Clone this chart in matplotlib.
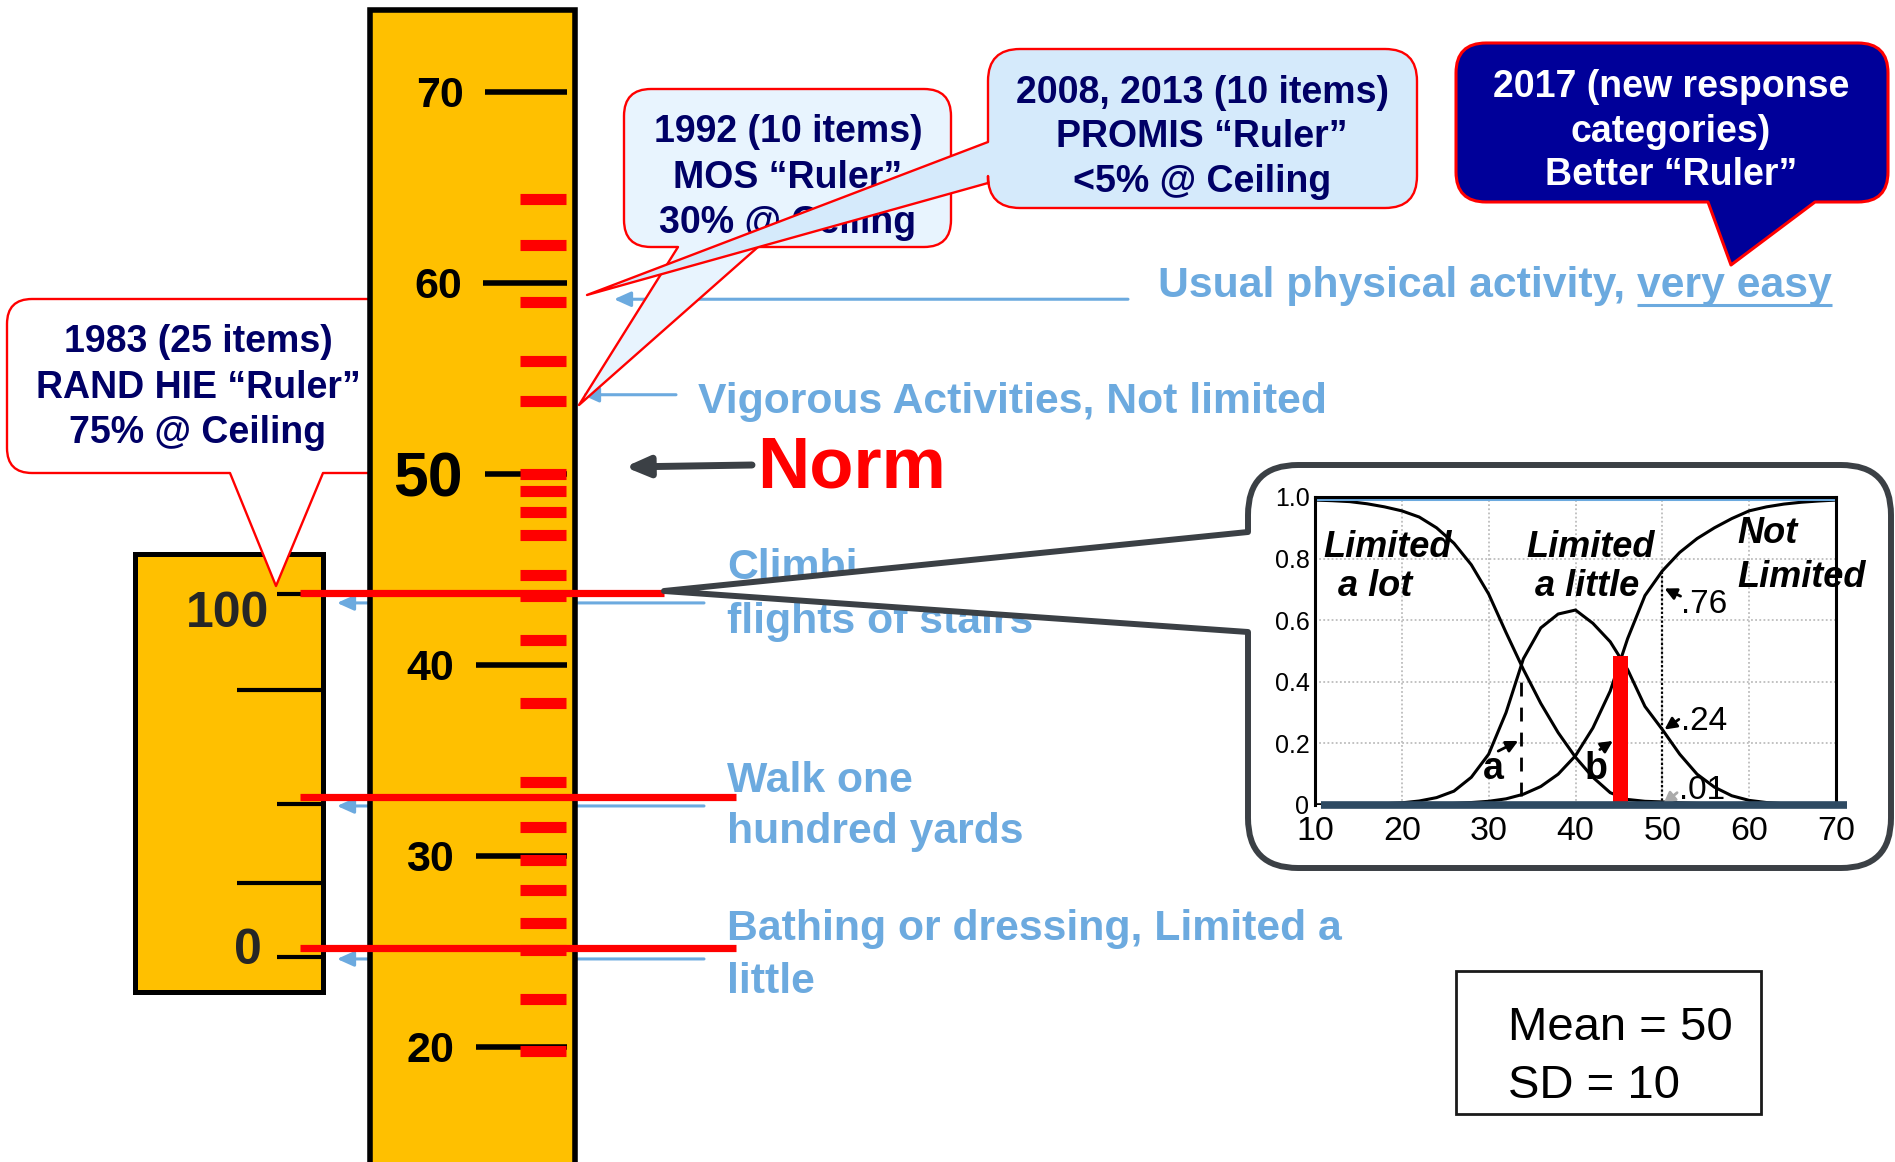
import numpy as np
import matplotlib
matplotlib.use("Agg")
import matplotlib.pyplot as plt
import matplotlib.transforms as mtransforms
from matplotlib.path import Path
from matplotlib.patches import PathPatch, Rectangle, FancyArrowPatch

plt.rc("font", family="Liberation Sans")

# ---------------- data ----------------
# PROMIS T-score ruler
ruler_ticks = [20, 30, 40, 50, 60, 70]
ruler_tick_x0 = [476, 476, 476, 485, 483, 485]
ruler_label_x = [454, 454, 454, 463, 462, 464]
ruler_label_size = [31, 31, 31, 45, 31, 31]
promis_marks = [64.4, 62.0, 59.0, 55.9, 53.8, 50.0, 49.1, 48.0, 46.8, 44.7, 43.6,
                41.3, 38.0, 33.9, 31.5, 29.8, 28.2, 26.5, 25.1, 22.5, 19.8]

# RAND HIE 0-100 ruler, positioned against the T-score scale
hie_t = [43.7, 38.7, 32.7, 28.6, 24.7]
hie_long = [False, True, False, True, False]
hie_labels = ["100", "0"]
hie_label_t = [42.0, 24.35]
hie_label_x = [269, 262]

# items
item_t = [43.77, 33.09, 25.18]
item_end_x = [664, 736, 736]
item_arrow_t = [43.25, 32.62, 24.61]
item_text = [["Climbi", "flights of stairs"],
             ["Walk one", "hundred yards"],
             ["Bathing or dressing, Limited a", "little"]]
item_text_y = [[579, 633], [792, 843], [940, 993]]
usual_t, vigorous_t = 59.15, 54.15

# category response curves (inset)
theta = [10, 12, 14, 16, 18, 20, 22, 24, 26, 28, 30, 32, 34, 36, 38, 40,
         42, 44, 46, 48, 50, 52, 54, 56, 58, 60, 62, 64, 66, 68, 70]
p_lot = [0.990, 0.988, 0.985, 0.978, 0.968, 0.955, 0.935, 0.900, 0.850, 0.780,
         0.685, 0.560, 0.440, 0.330, 0.235, 0.155, 0.090, 0.040, 0.018, 0.012,
         0.010, 0.007, 0.005, 0.004, 0.003, 0.002, 0.002, 0.001, 0.001, 0.001, 0.000]
p_little = [0.000, 0.000, 0.001, 0.002, 0.004, 0.007, 0.013, 0.024, 0.045, 0.090,
            0.165, 0.300, 0.475, 0.575, 0.620, 0.633, 0.590, 0.530, 0.440, 0.320,
            0.245, 0.165, 0.100, 0.058, 0.030, 0.015, 0.008, 0.004, 0.002, 0.001, 0.000]
p_not = [0.000, 0.000, 0.000, 0.001, 0.001, 0.001, 0.002, 0.003, 0.005, 0.008,
         0.012, 0.020, 0.035, 0.060, 0.100, 0.160, 0.250, 0.370, 0.540, 0.680,
         0.760, 0.820, 0.865, 0.900, 0.930, 0.955, 0.968, 0.977, 0.983, 0.987, 0.990]
x_ticks = [10, 20, 30, 40, 50, 60, 70]
y_ticks = [0, 0.2, 0.4, 0.6, 0.8, 1.0]
y_tick_labels = ["0", "0.2", "0.4", "0.6", "0.8", "1.0"]

# ---------------- style ----------------
W, H = 1895, 1162
PX_PER_T = 19.1
T50_PX = 474
YELLOW = "#FFC000"
NAVY = "#000066"
BLUE = "#6CAADF"
DARK = "#3B4045"


def t_of(py):
    return 50 + (T50_PX - py) / PX_PER_T


def bubble(ax, x0, y0, x1, y1, r, tip, base, side, fc, ec, lw, z=2, trans=None):
    v = [(x0 + r, y0), (x1 - r, y0), (x1, y0), (x1, y0 + r),
         (x1, y1 - r), (x1, y1), (x1 - r, y1)]
    c = [Path.MOVETO, Path.LINETO, Path.CURVE3, Path.CURVE3,
         Path.LINETO, Path.CURVE3, Path.CURVE3]
    if side == "bottom":
        v += [(base[1], y1), tip, (base[0], y1)]
        c += [Path.LINETO] * 3
    v += [(x0 + r, y1), (x0, y1), (x0, y1 - r)]
    c += [Path.LINETO, Path.CURVE3, Path.CURVE3]
    if side == "left":
        v += [(x0, base[1]), tip, (x0, base[0])]
        c += [Path.LINETO] * 3
    v += [(x0, y0 + r), (x0, y0), (x0 + r, y0), (x0 + r, y0)]
    c += [Path.LINETO, Path.CURVE3, Path.CURVE3, Path.CLOSEPOLY]
    p = PathPatch(Path(v, c), fc=fc, ec=ec, lw=lw, zorder=z, joinstyle="round")
    if trans is not None:
        p.set_transform(trans)
    ax.add_patch(p)


def stack(ax, x, ys, lines, **kw):
    for y, s in zip(ys, lines):
        ax.text(x, y, s, ha="center", va="baseline", **kw)


def arrow(ax, a, b, color, lw, hl, hw, z=3):
    ax.add_patch(FancyArrowPatch(a, b, arrowstyle=f"-|>,head_length={hl},head_width={hw}",
                                 mutation_scale=10, color=color, lw=lw,
                                 shrinkA=0, shrinkB=0, zorder=z))


fig = plt.figure(figsize=(W / 100, H / 100), dpi=100)
fig.patch.set_facecolor("white")

# pixel space helper axes (drawn with the rulers)
axA = fig.add_axes([0, 0, 1, 1], zorder=0)
axA.set_xlim(0, W)
axA.set_ylim(H, 0)
axA.axis("off")

# rulers, y in T-score units
axB = fig.add_axes([0, 0, 1, 1], zorder=1)
axB.set_xlim(0, W)
axB.set_ylim(t_of(H), t_of(0))
axB.axis("off")

# pixel space, callouts and labels
axC = fig.add_axes([0, 0, 1, 1], zorder=2)
axC.set_xlim(0, W)
axC.set_ylim(H, 0)
axC.axis("off")

# item arrows running behind the main ruler
for t in item_arrow_t:
    arrow(axB, (704, t), (337, t), BLUE, 2.2, 1.0, 0.45, z=1)

# small RAND HIE ruler
axB.add_patch(Rectangle((134.5, t_of(991.5)), 188, t_of(554.5) - t_of(991.5),
                        fc=YELLOW, ec="black", lw=3.6, zorder=2))
axB.hlines(hie_t, [237 if lg else 277 for lg in hie_long], 321,
           colors="black", lw=3, zorder=2.5, capstyle="butt")
for s, t, x in zip(hie_labels, hie_label_t, hie_label_x):
    axB.text(x, t, s, ha="right", va="baseline", fontsize=36,
             fontweight="bold", color="#262626", zorder=2.6)

# 1983 callout: over the small ruler, tucked behind the main ruler
bubble(axB, 7, 299, 430, 473, 25, (276, 586), (230, 323), "bottom",
       "white", "red", 1.7, z=2.8, trans=axA.transData)
for y, s in zip([352, 398, 443],
                ["1983 (25 items)", "RAND HIE \u201cRuler\u201d", "75% @ Ceiling"]):
    axB.text(198, y, s, ha="center", va="baseline", fontsize=27,
             fontweight="bold", color=NAVY, zorder=2.9, transform=axA.transData)

# main PROMIS ruler
axB.add_patch(Rectangle((370, 5), 205, t_of(10.5) - 5,
                        fc=YELLOW, ec="black", lw=4, zorder=3))
axB.hlines(ruler_ticks, ruler_tick_x0, 567, colors="black", lw=4,
           zorder=4, capstyle="butt")
for v, x, fs in zip(ruler_ticks, ruler_label_x, ruler_label_size):
    off = mtransforms.ScaledTranslation(0, -0.358 * fs / 72, fig.dpi_scale_trans)
    axB.text(x, v, str(v), ha="right", va="baseline", fontsize=fs,
             fontweight="bold", color="black", zorder=4,
             transform=axB.transData + off)
axB.hlines(promis_marks, 520, 566, colors="red", lw=8, zorder=4.5,
           capstyle="butt")

# red item lines across both rulers
axB.hlines(item_t, 300, item_end_x, colors="red", lw=5.2, zorder=5,
           capstyle="butt")

# arrows for the two easy items
arrow(axB, (1128, usual_t), (614, usual_t), BLUE, 2.2, 1.0, 0.45, z=5)
arrow(axB, (676, vigorous_t), (582, vigorous_t), BLUE, 2.2, 1.0, 0.45, z=5)

# MOS and PROMIS callouts
bubble(axC, 624, 89, 951, 247, 27, (579, 405), (678, 758), "bottom",
       "#E8F4FE", "red", 1.7, z=2)
stack(axC, 788, [142, 188, 233],
      ["1992 (10 items)", "MOS \u201cRuler\u201d", "30% @ Ceiling"],
      fontsize=27, fontweight="bold", color=NAVY, zorder=2.1)
bubble(axC, 988, 49, 1417, 208, 32, (587, 295), (142, 183), "left",
       "#D5EAFB", "red", 1.7, z=2.2)
stack(axC, 1202, [103, 147, 192],
      ["2008, 2013 (10 items)", "PROMIS \u201cRuler\u201d", "<5% @ Ceiling"],
      fontsize=27, fontweight="bold", color=NAVY, zorder=2.3)

# 2017 callout
bubble(axC, 1456, 43, 1888, 202, 30, (1731, 265), (1708, 1815), "bottom",
       "#000099", "red", 2.2, z=2)
stack(axC, 1671, [97, 142, 185],
      ["2017 (new response", "categories)", "Better \u201cRuler\u201d"],
      fontsize=27, fontweight="bold", color="white", zorder=2.1)

# item labels
blue_kw = dict(fontsize=30.8, fontweight="bold", color=BLUE)
usual = axC.text(1158, 297, "Usual physical activity, very easy",
                 ha="left", va="baseline", **blue_kw)
axC.text(698, 413, "Vigorous Activities, Not limited", ha="left",
         va="baseline", **blue_kw)
for lines, ys in zip(item_text, item_text_y):
    for s, y in zip(lines, ys):
        axC.text(727, y, s, ha="left", va="baseline", zorder=1, **blue_kw)

# underline "very easy"
rend = fig.canvas.get_renderer()
full = usual.get_window_extent(renderer=rend)
tmp = axC.text(0, 0, "very easy", **blue_kw)
w_very = tmp.get_window_extent(renderer=rend).width
tmp.remove()
inv = axC.transData.inverted()
ux0 = inv.transform((full.x1 - w_very, 0))[0]
ux1 = inv.transform((full.x1, 0))[0]
axC.plot([ux0, ux1], [305, 305], color=BLUE, lw=2.2, solid_capstyle="butt")

# Norm
arrow(axC, (752, 465), (625, 467), DARK, 5, 1.4, 0.6, z=3)
axC.text(757, 488, "Norm", ha="left", va="baseline", fontsize=52,
         fontweight="bold", color="red")

# inset callout box
bubble(axC, 1248, 465, 1891, 868, 50, (664, 591), (532, 632), "left",
       "white", DARK, 4.3, z=2)

# Mean / SD box
axC.add_patch(Rectangle((1456, 971), 305, 143, fc="white", ec="#1a1a1a",
                        lw=2))
axC.text(1508, 1040, "Mean = 50", ha="left", va="baseline", fontsize=34)
axC.text(1508, 1098, "SD = 10", ha="left", va="baseline", fontsize=34)

# ---------------- inset: category response curves ----------------
axD = fig.add_axes([1315 / W, 1 - 805 / H, 521 / W, 308 / H], zorder=3)
axD.patch.set_visible(False)
axD.set_xlim(10, 70)
axD.set_ylim(0, 1)
axD.set_axisbelow(True)
axD.grid(True, color="#BDBDBD", lw=1.3, ls=(0, (1, 1.3)))
axD.plot(theta, p_lot, color="black", lw=2.2)
axD.plot(theta, p_little, color="black", lw=2.2)
axD.plot(theta, p_not, color="black", lw=2.2)
axD.set_xticks(x_ticks)
axD.set_xticklabels([str(v) for v in x_ticks], fontsize=24.5)
axD.set_yticks(y_ticks)
axD.set_yticklabels(y_tick_labels, fontsize=18)
axD.tick_params(length=0)
axD.tick_params(axis="x", pad=8)
axD.tick_params(axis="y", pad=4)
for s in ["left", "right", "top"]:
    axD.spines[s].set_linewidth(2.2)
axD.spines["bottom"].set_visible(False)
axD.axhline(0.992, color=BLUE, lw=2.2)
axD.hlines(0, 10.7, 71.3, colors="#2E4A62", lw=5.5, clip_on=False, zorder=4)

axD.vlines(33.7, 0.03, 0.43, colors="black", lw=2, linestyles=(0, (5, 4)))
axD.bar(45.2, 0.483, width=1.8, color="red", zorder=3)
axD.vlines(50, 0, 0.755, colors="black", lw=1.6, linestyles=(0, (1, 1)))

arrow(axD, (31.1, 0.175), (33.4, 0.208), "black", 2, 0.7, 0.35)
arrow(axD, (42.8, 0.18), (44.3, 0.208), "black", 2, 0.7, 0.35)
arrow(axD, (52.1, 0.678), (50.25, 0.703), "black", 2, 0.7, 0.35)
arrow(axD, (51.9, 0.278), (50.25, 0.245), "black", 2, 0.7, 0.35)
arrow(axD, (51.7, 0.04), (50.1, 0.003), "#AAAAAA", 2, 0.7, 0.35)

axD.text(52.1, 0.624, ".76", fontsize=24, va="baseline")
axD.text(52.1, 0.245, ".24", fontsize=24, va="baseline")
axD.text(51.9, 0.018, ".01", fontsize=24, va="baseline")
axD.text(30.5, 0.083, "a", fontsize=27, fontweight="bold", ha="center", va="baseline")
axD.text(42.4, 0.083, "b", fontsize=27, fontweight="bold", ha="center", va="baseline")

lab_kw = dict(fontsize=26, fontweight="bold", style="italic", va="baseline")
axD.text(18.4, 0.805, "Limited", ha="center", **lab_kw)
axD.text(16.9, 0.68, "a lot", ha="center", **lab_kw)
axD.text(41.7, 0.805, "Limited", ha="center", **lab_kw)
axD.text(41.3, 0.68, "a little", ha="center", **lab_kw)
axD.text(58.6, 0.85, "Not", ha="left", **lab_kw)
axD.text(58.6, 0.708, "Limited", ha="left", **lab_kw)

fig.savefig("out.png", dpi=100, facecolor="white")
